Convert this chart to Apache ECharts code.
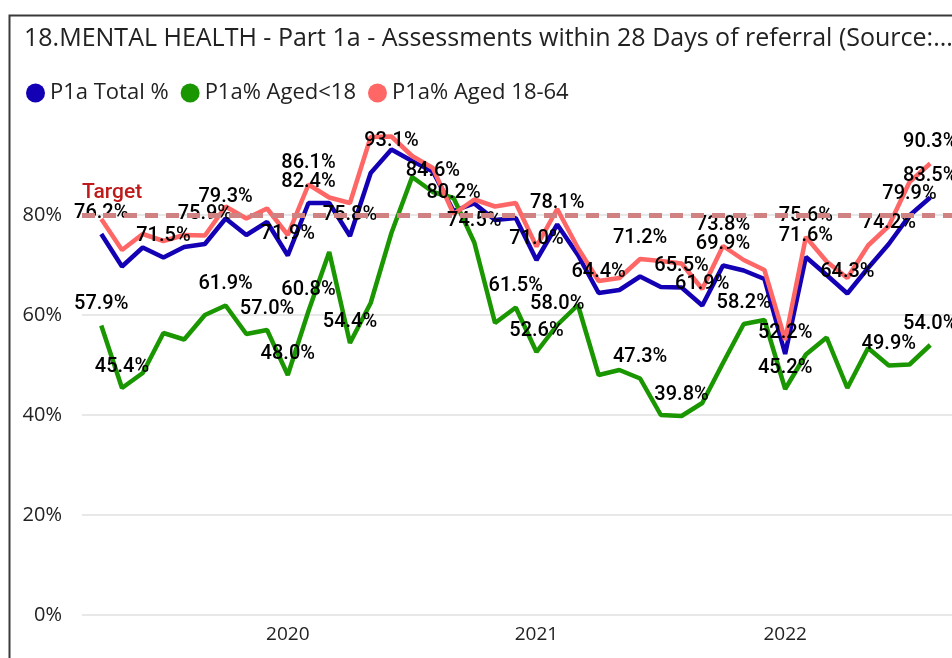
<!DOCTYPE html>
<html>
<head>
<meta charset="utf-8">
<script src="https://cdn.jsdelivr.net/npm/echarts@6/dist/echarts.min.js"></script>
<style>
html,body{margin:0;padding:0;background:#fff;}
#chart{width:952px;height:658px;}
</style>
</head>
<body>
<div id="chart"></div>
<script>
// ---- data ----
const months = ['2019-04','2019-05','2019-06','2019-07','2019-08','2019-09','2019-10','2019-11','2019-12',
  '2020-01','2020-02','2020-03','2020-04','2020-05','2020-06','2020-07','2020-08','2020-09','2020-10','2020-11','2020-12',
  '2021-01','2021-02','2021-03','2021-04','2021-05','2021-06','2021-07','2021-08','2021-09','2021-10','2021-11','2021-12',
  '2022-01','2022-02','2022-03','2022-04','2022-05','2022-06','2022-07','2022-08'];
const totalPct = [76.2,69.7,73.5,71.5,73.6,74.2,79.3,76.0,78.6,
  71.9,82.4,82.4,75.8,88.4,93.1,90.8,88.7,80.8,82.3,79.0,79.4,
  71.0,78.1,72.0,64.4,65.0,67.7,65.6,65.5,61.9,69.9,68.9,67.2,
  52.2,71.6,68.0,64.3,69.4,74.2,79.9,83.5];
const under18Pct = [57.9,45.4,48.4,56.4,55.1,60.0,61.9,56.2,57.0,
  48.0,60.8,72.6,54.4,62.4,76.4,87.6,84.6,83.4,74.5,58.4,61.5,
  52.6,58.0,62.0,48.0,49.0,47.3,40.0,39.8,42.4,50.4,58.2,59.0,
  45.2,52.1,55.5,45.4,53.4,49.9,50.1,54.0];
const aged1864Pct = [79.2,73.0,76.2,74.8,76.0,75.9,81.7,79.3,81.3,
  76.0,86.1,83.5,82.4,95.6,95.7,91.8,89.4,80.2,83.1,81.7,82.4,
  73.7,81.2,73.4,66.8,67.4,71.2,70.8,70.3,65.2,73.8,71.0,69.0,
  55.0,75.6,70.7,67.4,73.9,77.8,86.6,90.3];
const totalLabelIdx = [0,3,6,9,10,12,14,21,22,24,28,29,30,33,34,36,38,39,40];
const under18LabelIdx = [0,1,6,8,9,10,12,16,18,20,21,22,26,28,31,33,38,40];
const aged1864LabelIdx = [5,10,17,26,30,34,40];
const targetValue = 80;
const yearTicks = ['2020','2021','2022'];
const seriesNames = ['P1a Total %','P1a% Aged<18','P1a% Aged 18-64'];
const titleText = '18.MENTAL HEALTH - Part 1a - Assessments within 28 Days of referral (Source:...';

// month offset relative to Jan 2020
function monthPos(m){ const p=m.split('-'); return (+p[0]-2020)*12 + (+p[1]-1); }
function buildData(vals, labelIdx){
  return vals.map((v,i)=>({value:[monthPos(months[i]), v], label:{show: labelIdx.indexOf(i) >= 0}}));
}
const yearPositions = yearTicks.map(y => monthPos(y + '-01'));

const chart = echarts.init(document.getElementById('chart'), null, {renderer:'canvas'});
const labelFont = {fontFamily:'Roboto', fontSize:20, fontWeight:500, color:'#000'};
function labelLayout(p){
  const r = p.labelRect; let dx = 0, dy = 0;
  if (r.x + r.width > 958) dx = 958 - r.x - r.width;
  if (r.y < 131) dy = 131 - r.y;
  return {dx: dx, dy: dy};
}
function lineSeries(name, vals, labelIdx, color, extra){
  return Object.assign({
    name: name, type:'line', data: buildData(vals, labelIdx),
    showSymbol:true, symbol:'circle', symbolSize:0.1,
    itemStyle:{color:color},
    lineStyle:{color:color, width:4.5},
    label:Object.assign({position:'top', distance:11, formatter:(p)=>p.value[1].toFixed(1)+'%'}, labelFont),
    labelLayout: labelLayout,
    animation:false, silent:true
  }, extra||{});
}

const option = {
  backgroundColor:'#fff',
  animation:false,
  title:{
    text:titleText, left:19, top:19,
    textStyle:{fontFamily:'Open Sans', fontSize:25, fontWeight:'normal', color:'#222', lineHeight:30}
  },
  legend:{
    left:21, top:77, icon:'circle', itemWidth:19, itemHeight:19, itemGap:12,
    textStyle:{fontFamily:'Open Sans', fontSize:22, color:'#222'},
    data: seriesNames
  },
  graphic:[{type:'rect', shape:{x:9.5, y:15.5, width:1000, height:700}, style:{fill:'none', stroke:'#3a3a3a', lineWidth:2}, silent:true}],
  grid:{left:82, right:-18, top:115, bottom:43, containLabel:false},
  xAxis:{
    type:'value', min:-9.93, max:32.05,
    axisLine:{show:false}, axisTick:{show:false}, splitLine:{show:false},
    axisLabel:{customValues: yearPositions, formatter:(v)=>String(2020 + Math.round(v/12)),
      fontFamily:'Open Sans', fontSize:19, color:'#222', margin:10}
  },
  yAxis:{
    type:'value', min:0, max:100, interval:20,
    axisLine:{show:false}, axisTick:{show:false},
    splitLine:{show:true, showMaxLine:false, lineStyle:{color:['#e8e8e8','#e8e8e8','#e8e8e8','#e8e8e8','#e8e8e8','rgba(0,0,0,0)'], width:2}},
    axisLabel:{showMaxLabel:false, formatter:(v)=> v===100 ? '' : v+'%', fontFamily:'Open Sans', fontSize:20, color:'#222', margin:20}
  },
  series:[
    lineSeries(seriesNames[0], totalPct, totalLabelIdx, '#1400B4', {
      markLine:{
        silent:true, symbol:['none','none'], animation:false,
        lineStyle:{color:'#D08282', width:5, type:[13,8]},
        label:{show:true, position:'insideStartTop', formatter:'Target', distance:[0,12],
          fontFamily:'Roboto', fontSize:21, fontWeight:500, color:'#BE1A1A'},
        data:[{yAxis: targetValue}]
      }
    }),
    lineSeries(seriesNames[1], under18Pct, under18LabelIdx, '#1A9600'),
    lineSeries(seriesNames[2], aged1864Pct, aged1864LabelIdx, '#FF6666')
  ]
};
chart.setOption(option);
</script>
</body>
</html>
